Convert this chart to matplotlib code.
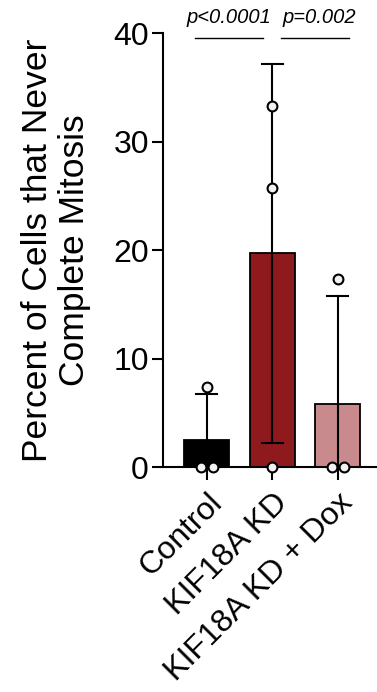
import numpy as np
import matplotlib
matplotlib.use("Agg")
import matplotlib.pyplot as plt

plt.rcParams['font.family'] = ['Liberation Sans', 'DejaVu Sans']

groups = ["Control", "KIF18A KD", "KIF18A KD + Dox"]
means = [2.5, 19.7, 5.8]
sds = [4.2, 17.45, 9.95]
points = [[7.4, 0, 0], [33.3, 25.7, 0], [17.3, 0, 0]]
point_offsets = [[0, -0.09, 0.09], [0, 0, 0], [0, -0.09, 0.09]]
colors = ["#000000", "#8E1A1E", "#C98A8E"]
pvals = ["p<0.0001", "p=0.002"]

fig = plt.figure(figsize=(3.77, 6.92), dpi=100)
ax = fig.add_axes([0.432, 0.325, 0.568, 0.627])

x = np.arange(len(groups))
ax.bar(x, means, width=0.69, color=colors, edgecolor="black", linewidth=1.3, zorder=2)

# error bars (upper always, lower only if above zero)
for i in range(len(groups)):
    lo = max(means[i] - sds[i], 0)
    ax.plot([x[i], x[i]], [lo, means[i] + sds[i]], color="black", lw=1.5, zorder=3)
    ax.plot([x[i] - 0.16, x[i] + 0.16], [means[i] + sds[i]] * 2, color="black", lw=1.5, zorder=3)
    if means[i] - sds[i] > 0:
        ax.plot([x[i] - 0.16, x[i] + 0.16], [lo, lo], color="black", lw=1.5, zorder=3)

for i in range(len(groups)):
    xs = [x[i] + o for o in point_offsets[i]]
    ax.scatter(xs, points[i], s=50, facecolor="#f2f2f2", edgecolor="black",
               linewidth=1.5, zorder=5, clip_on=False)

# significance lines
ax.plot([-0.18, 0.86], [39.6, 39.6], color="black", lw=1, clip_on=False)
ax.plot([1.14, 2.18], [39.6, 39.6], color="black", lw=1, clip_on=False)
ax.text(0.34, 40.6, pvals[0], style="italic", fontsize=14.5, ha="center", va="bottom")
ax.text(1.72, 40.6, pvals[1], style="italic", fontsize=14.5, ha="center", va="bottom")

ax.set_xlim(-0.67, 2.6)
ax.set_ylim(0, 40)
ax.set_yticks([0, 10, 20, 30, 40])
ax.set_xticks(x)
ax.set_xticklabels(groups, rotation=45, ha="right", rotation_mode="anchor", fontsize=23)
ax.tick_params(axis="y", labelsize=23, width=1.5, length=8, pad=2)
ax.tick_params(axis="x", width=1.5, length=9, pad=6)
ax.spines["top"].set_visible(False)
ax.spines["right"].set_visible(False)
ax.spines["left"].set_linewidth(1.5)
ax.spines["bottom"].set_linewidth(1.5)
ax.set_ylabel("Percent of Cells that Never\nComplete Mitosis", fontsize=25.5, labelpad=16,
              linespacing=1.15)

fig.savefig("out.png", dpi=100)
